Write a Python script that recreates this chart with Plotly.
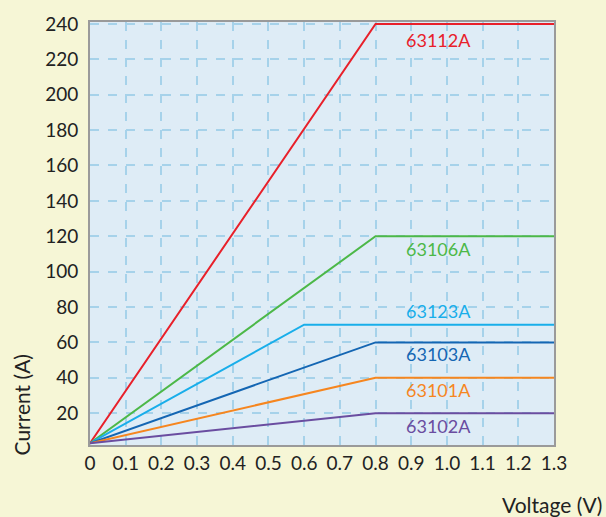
import plotly.graph_objects as go

# Data
models = ["63112A", "63106A", "63123A", "63103A", "63101A", "63102A"]
colors = ["#e8202a", "#4cb848", "#19aeea", "#1466b3", "#f6861f", "#6a4da0"]
start_current = 3
knee_voltage = [0.8, 0.8, 0.6, 0.8, 0.8, 0.8]
max_current = [240, 120, 70, 60, 40, 20]
end_voltage = 1.3

label_x = 0.975
label_y = [231, 113, 78, 53.5, 33, 12.5]

x_tickvals = [0, 0.1, 0.2, 0.3, 0.4, 0.5, 0.6, 0.7, 0.8, 0.9, 1.0, 1.1, 1.2, 1.3]
x_ticktext = ["0", "0.1", "0.2", "0.3", "0.4", "0.5", "0.6", "0.7", "0.8", "0.9", "1.0", "1.1", "1.2", "1.3"]
y_tickvals = [20, 40, 60, 80, 100, 120, 140, 160, 180, 200, 220, 240]

FONT = "Lato"

fig = go.Figure()
for m, c, kv, mc in zip(models, colors, knee_voltage, max_current):
    fig.add_trace(go.Scatter(
        x=[0, kv, end_voltage], y=[start_current, mc, mc],
        mode="lines", line=dict(color=c, width=2), name=m,
        showlegend=False, hoverinfo="skip", cliponaxis=False,
    ))

annotations = []
for m, c, ly in zip(models, colors, label_y):
    annotations.append(dict(x=label_x, y=ly, xref="x", yref="y", text=m,
                            xanchor="center", yanchor="middle",
                            showarrow=False, font=dict(family=FONT, size=18, color=c)))

annotations.append(dict(x=21, y=405, xref="paper", yref="paper", text="Current (A)",
                        showarrow=False, textangle=-90, xanchor="center", yanchor="middle",
                        font=dict(family=FONT, size=21, color="#222")))
annotations.append(dict(x=604, y=505, xref="paper", yref="paper", text="Voltage (V)",
                        showarrow=False, xanchor="right", yanchor="middle",
                        font=dict(family=FONT, size=21, color="#222")))

# convert pixel positions of axis titles to paper coords
W, H = 606, 517
ml, mr, mt, mb = 90, 52, 17, 72
pw, ph = W - ml - mr, H - mt - mb
for a in annotations[-2:]:
    px, py = a["x"], a["y"]
    a["x"] = (px - ml) / pw
    a["y"] = (H - mb - py) / ph

fig.update_layout(
    width=W, height=H,
    margin=dict(l=ml, r=mr, t=mt, b=mb),
    paper_bgcolor="#f6f6d6",
    plot_bgcolor="#deecf6",
    font=dict(family=FONT, size=19, color="#222"),
    annotations=annotations,
    xaxis=dict(range=[0, 1.3], tickvals=x_tickvals, ticktext=x_ticktext,
               showgrid=True, gridcolor="#a6d2ea", griddash="dash", gridwidth=1.5,
               showline=True, linecolor="#9a9a9a", linewidth=2, mirror=True,
               ticks="", zeroline=False, tickfont=dict(size=19, color="#222")),
    yaxis=dict(range=[2, 241.1], tickvals=y_tickvals,
               showgrid=True, gridcolor="#a6d2ea", griddash="dash", gridwidth=1.5,
               showline=True, linecolor="#9a9a9a", linewidth=2, mirror=True,
               ticks="", zeroline=False, tickfont=dict(size=19, color="#222"),
               ticklabelstandoff=6),
)

fig.write_html("out.html", config={"displayModeBar": False},
               post_script="document.body.style.margin='0';document.body.style.padding='0';document.body.style.overflow='hidden';")
